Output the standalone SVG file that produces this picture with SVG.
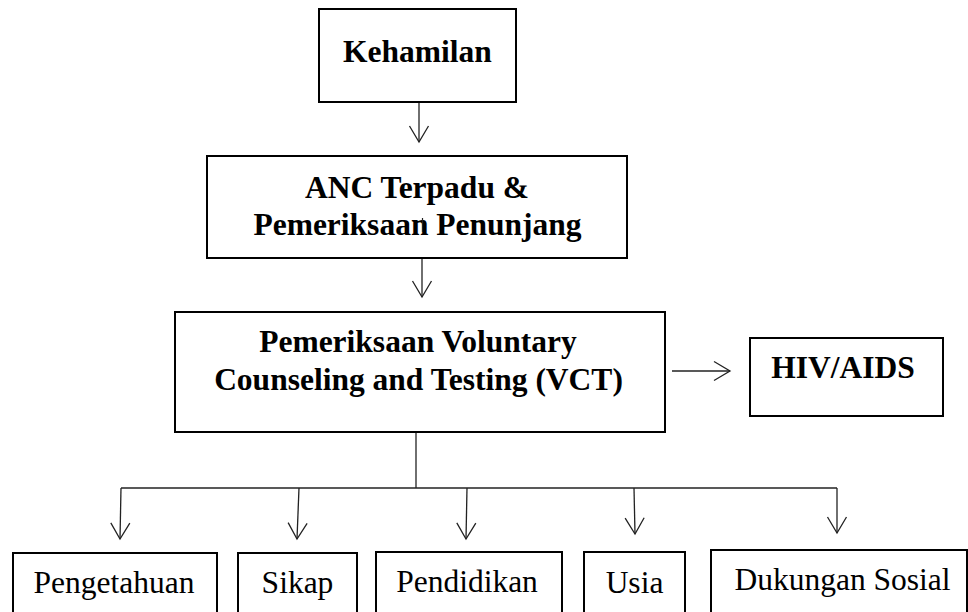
<svg xmlns="http://www.w3.org/2000/svg" width="968" height="612" viewBox="0 0 968 612">
<style>
.box{fill:#fff;stroke:#000;stroke-width:2}
.b{font-family:"Liberation Serif","Times New Roman",serif;font-weight:bold;font-size:31.5px;fill:#000;text-anchor:middle}
.r{font-family:"Liberation Serif","Times New Roman",serif;font-size:31.5px;fill:#000;text-anchor:middle}
.c{fill:none;stroke:#222;stroke-width:1.3}
</style>
<defs>
<marker id="ah" markerUnits="userSpaceOnUse" viewBox="-18 -12 20 24" markerWidth="20" markerHeight="24" refX="0" refY="0" orient="auto" overflow="visible">
<path d="M-16,-9.5 L0,0 L-16,9.5" fill="none" stroke="#222" stroke-width="1.3"/>
</marker>
</defs>
<rect width="968" height="612" fill="#fff"/>
<g id="connectors">
<line class="c" x1="419" y1="102" x2="419" y2="142" marker-end="url(#ah)"/>
<line class="c" x1="422" y1="258" x2="422" y2="297" marker-end="url(#ah)"/>
<line class="c" x1="672" y1="371" x2="730" y2="371" marker-end="url(#ah)"/>
<line class="c" x1="416" y1="432" x2="416" y2="488"/>
<line class="c" x1="121" y1="488" x2="837" y2="488"/>
<line class="c" x1="121" y1="488" x2="120" y2="539" marker-end="url(#ah)"/>
<line class="c" x1="299" y1="488" x2="297" y2="539" marker-end="url(#ah)"/>
<line class="c" x1="467" y1="488" x2="466" y2="539" marker-end="url(#ah)"/>
<line class="c" x1="634" y1="488" x2="635" y2="534" marker-end="url(#ah)"/>
<line class="c" x1="837" y1="488" x2="837" y2="533" marker-end="url(#ah)"/>
</g>
<g id="kehamilan">
<rect class="box" x="319" y="9" width="197" height="93"/>
<text class="b" x="417.5" y="62">Kehamilan</text>
</g>
<g id="anc">
<rect class="box" x="207" y="156" width="420" height="102"/>
<text class="b" x="417" y="198">ANC Terpadu &amp;</text>
<text class="b" x="417.5" y="235">Pemeriksaan Penunjang</text>
<line x1="422.5" y1="218" x2="422.5" y2="232" stroke="#222" stroke-width="1.2"/>
</g>
<g id="vct">
<rect class="box" x="175" y="312" width="490" height="120"/>
<text class="b" x="418" y="352">Pemeriksaan Voluntary</text>
<text class="b" x="418.5" y="390">Counseling and Testing (VCT)</text>
</g>
<g id="hiv">
<rect class="box" x="750" y="338" width="193" height="78"/>
<text class="b" x="843" y="378">HIV/AIDS</text>
</g>
<g id="pengetahuan">
<rect class="box" x="13" y="553" width="204" height="70"/>
<text class="r" x="114" y="593">Pengetahuan</text>
</g>
<g id="sikap">
<rect class="box" x="238" y="553" width="119" height="70"/>
<text class="r" x="297.5" y="593">Sikap</text>
</g>
<g id="pendidikan">
<rect class="box" x="376" y="552" width="186" height="70"/>
<text class="r" x="467" y="592">Pendidikan</text>
</g>
<g id="usia">
<rect class="box" x="584" y="552" width="101" height="70"/>
<text class="r" x="634.5" y="593">Usia</text>
</g>
<g id="dukungan">
<rect class="box" x="711" y="550" width="256" height="70"/>
<text class="r" x="842.5" y="590">Dukungan Sosial</text>
</g>
</svg>
